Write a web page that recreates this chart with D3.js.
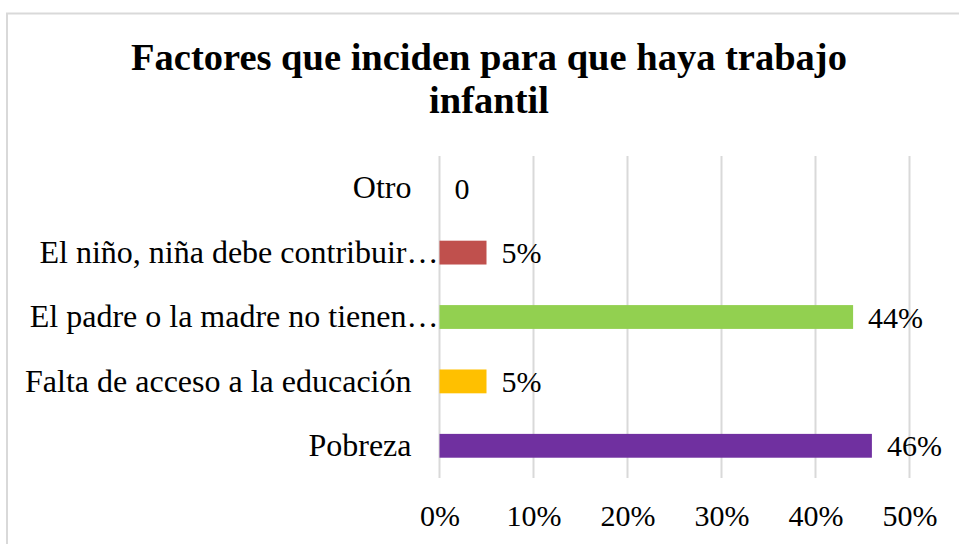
<!DOCTYPE html>
<html>
<head>
<meta charset="utf-8">
<script src="https://cdn.jsdelivr.net/npm/d3@7"></script>
<style>
  html, body { margin: 0; padding: 0; background: #fff; }
  svg { display: block; font-family: "Liberation Serif", "Times New Roman", serif; }
</style>
</head>
<body>
<svg width="959" height="544"></svg>
<script>
// categories, top to bottom
const categories = [
  "Otro",
  "El niño, niña debe contribuir…",
  "El padre o la madre no tienen…",
  "Falta de acceso a la educación",
  "Pobreza"
];
const values = [0, 0.05, 0.44, 0.05, 0.46];
const valueLabels = ["0", "5%", "44%", "5%", "46%"];
const colors = ["#4472C4", "#C0504D", "#92D050", "#FFC000", "#7030A0"];
const xTicks = [0, 0.1, 0.2, 0.3, 0.4, 0.5];

const svg = d3.select("svg");
const fontSize = 30;
const catFontSize = 32;

// chart border
svg.append("rect")
  .attr("x", 7).attr("y", 13.5)
  .attr("width", 1000).attr("height", 600)
  .attr("fill", "none")
  .attr("stroke", "#d9d9d9")
  .attr("stroke-width", 2);

// title
const title = svg.append("text")
  .attr("text-anchor", "middle")
  .attr("font-weight", "bold")
  .attr("font-size", 38.5);
title.append("tspan").attr("x", 489).attr("y", 70).text("Factores que inciden para que haya trabajo");
title.append("tspan").attr("x", 489).attr("y", 113).text("infantil");

const x = d3.scaleLinear().domain([0, 0.5]).range([439.5, 909.5]);
const y = d3.scaleBand().domain(categories).range([156, 478]).paddingInner(0.63).paddingOuter(0.315);

// gridlines
svg.append("g")
  .selectAll("line")
  .data(xTicks)
  .enter()
  .append("line")
  .attr("x1", d => x(d)).attr("x2", d => x(d))
  .attr("y1", 156).attr("y2", 478)
  .attr("stroke", "#d9d9d9")
  .attr("stroke-width", 2);

// bars
svg.append("g")
  .selectAll("rect")
  .data(values)
  .enter()
  .append("rect")
  .attr("x", x(0))
  .attr("y", (d, i) => y(categories[i]))
  .attr("width", d => x(d) - x(0))
  .attr("height", y.bandwidth())
  .attr("fill", (d, i) => colors[i]);

// value labels
svg.append("g")
  .selectAll("text")
  .data(values)
  .enter()
  .append("text")
  .attr("x", d => x(d) + 15)
  .attr("y", (d, i) => y(categories[i]) + y.bandwidth() / 2)
  .attr("dy", "0.35em")
  .attr("font-size", fontSize)
  .attr("fill", "#000")
  .text((d, i) => valueLabels[i]);

// category axis (truncated labels run a bit past the others)
const yAxis = svg.append("g")
  .attr("transform", `translate(${x(0) - 28},0)`)
  .call(d3.axisLeft(y).tickSize(0).tickPadding(0));
yAxis.attr("font-family", null).attr("font-size", catFontSize);
yAxis.select(".domain").remove();
yAxis.selectAll("text")
  .attr("fill", "#000")
  .attr("x", d => d.endsWith("…") ? 27 : 0);

// value axis
const xAxis = svg.append("g")
  .attr("transform", "translate(0,478)")
  .call(d3.axisBottom(x).tickValues(xTicks).tickFormat(d3.format(".0%")).tickSize(0).tickPadding(27));
xAxis.attr("font-family", null).attr("font-size", fontSize);
xAxis.select(".domain").remove();
xAxis.selectAll("text").attr("fill", "#000");
</script>
</body>
</html>
